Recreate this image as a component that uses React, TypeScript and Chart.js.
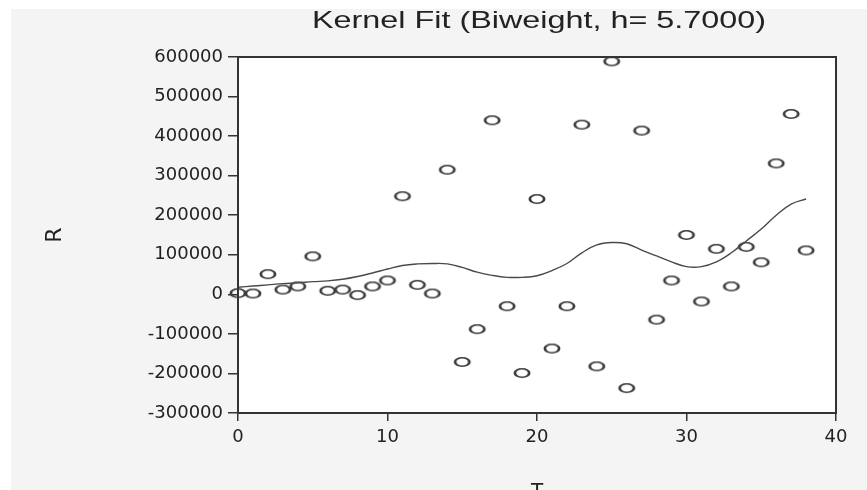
import React, { useEffect, useRef } from 'react';
import { Chart, registerables } from 'chart.js';

Chart.register(...registerables);

const TITLE = 'Kernel Fit (Biweight, h= 5.7000)';
const X_LABEL = 'T';
const Y_LABEL = 'R';

const T_VALUES = [0, 1, 2, 3, 4, 5, 6, 7, 8, 9, 10, 11, 12, 13, 14, 15, 16, 17, 18, 19, 20, 21, 22, 23, 24, 25, 26, 27, 28, 29, 30, 31, 32, 33, 34, 35, 36, 37, 38];
const R_VALUES = [3000, 2000, 51000, 12000, 20000, 96000, 9000, 12000, -2000, 20000, 35000, 248000, 24000, 2000, 315000, -171000, -88000, 440000, -30000, -199000, 241000, -137000, -30000, 429000, -182000, 589000, -237000, 414000, -64000, 35000, 150000, -18000, 115000, 20000, 120000, 81000, 331000, 456000, 111000];
const FIT_VALUES = [18000, 21000, 24000, 27000, 29000, 32000, 34000, 38000, 45000, 54000, 64000, 73000, 77000, 78000, 77000, 68000, 56000, 48000, 43000, 43000, 47000, 60000, 78000, 105000, 125000, 131000, 128000, 112000, 97000, 82000, 70000, 70000, 82000, 105000, 135000, 165000, 200000, 228000, 241000];

const X_TICKS = [0, 10, 20, 30, 40];
const Y_TICKS = [-300000, -200000, -100000, 0, 100000, 200000, 300000, 400000, 500000, 600000];

const FONT = '"DejaVu Sans", sans-serif';
const TITLE_FONT = '"Liberation Sans", Arial, sans-serif';
const INK = '#222222';
const AXIS = '#333333';

function makeMarker(): HTMLCanvasElement {
  const c = document.createElement('canvas');
  c.width = 20;
  c.height = 12;
  const g = c.getContext('2d')!;
  g.translate(10, 6);
  g.scale(1.7, 1);
  g.beginPath();
  g.arc(0, 0, 4.2, 0, Math.PI * 2);
  g.lineWidth = 1.6;
  g.strokeStyle = '#3c3c3c';
  g.stroke();
  return c;
}

const framePlugin = {
  id: 'frameAndTitle',
  beforeDraw(chart: any) {
    const { ctx, chartArea, width, height } = chart;
    ctx.save();
    ctx.fillStyle = '#ffffff';
    ctx.fillRect(0, 0, width, height);
    ctx.fillStyle = '#f4f4f4';
    ctx.fillRect(11, 9, width - 11, height - 9);
    ctx.fillStyle = '#ffffff';
    ctx.fillRect(chartArea.left, chartArea.top, chartArea.right - chartArea.left, chartArea.bottom - chartArea.top);
    ctx.restore();
  },
  afterDraw(chart: any) {
    const { ctx, chartArea } = chart;
    ctx.save();
    ctx.strokeStyle = AXIS;
    ctx.lineWidth = 2;
    ctx.strokeRect(chartArea.left, chartArea.top, chartArea.right - chartArea.left, chartArea.bottom - chartArea.top);
    ctx.font = '24px ' + TITLE_FONT;
    ctx.fillStyle = INK;
    ctx.textAlign = 'center';
    ctx.textBaseline = 'alphabetic';
    const w = ctx.measureText(TITLE).width;
    const sx = 454 / w;
    ctx.translate((chartArea.left + chartArea.right) / 2 + 2, 28);
    ctx.scale(sx, 1);
    ctx.fillText(TITLE, 0, 0);
    ctx.restore();
  },
};

export default function App() {
  const ref = useRef<HTMLCanvasElement | null>(null);

  useEffect(() => {
    if (!ref.current) return;
    const marker = makeMarker();
    const tickFont = { family: FONT, size: 18 };
    const chart = new Chart(ref.current, {
      type: 'scatter',
      data: {
        datasets: [
          {
            type: 'line',
            data: T_VALUES.map((t, i) => ({ x: t, y: FIT_VALUES[i] })),
            borderColor: '#4a4a4a',
            borderWidth: 1.4,
            pointRadius: 0,
            tension: 0.4,
            fill: false,
          } as any,
          {
            type: 'scatter',
            data: T_VALUES.map((t, i) => ({ x: t, y: R_VALUES[i] })),
            pointStyle: marker,
            pointRadius: 6,
            clip: false,
          } as any,
        ],
      },
      options: {
        animation: false,
        responsive: false,
        events: [],
        layout: { padding: { left: 0, top: 57, right: 31, bottom: -10 } },
        plugins: {
          legend: { display: false },
          tooltip: { enabled: false },
          title: { display: false },
        },
        scales: {
          x: {
            type: 'linear',
            min: 0,
            max: 40,
            afterBuildTicks: (s: any) => {
              s.ticks = X_TICKS.map((v) => ({ value: v }));
            },
            afterFit: (s: any) => {
              s.height = 87;
            },
            grid: { drawOnChartArea: false, tickLength: 8, color: AXIS, lineWidth: 1.5 },
            border: { color: AXIS, width: 2 },
            ticks: { font: tickFont, color: INK, padding: 6, maxRotation: 0, callback: (v: any) => String(v) },
            title: { display: true, text: X_LABEL, font: { family: FONT, size: 20 }, color: INK, padding: { top: 0, bottom: -4 } },
          },
          y: {
            type: 'linear',
            min: -300000,
            max: 600000,
            afterBuildTicks: (s: any) => {
              s.ticks = Y_TICKS.map((v) => ({ value: v }));
            },
            afterFit: (s: any) => {
              s.width = 238;
            },
            grid: { drawOnChartArea: false, tickLength: 10, color: AXIS, lineWidth: 1.5 },
            border: { color: AXIS, width: 2 },
            ticks: { font: tickFont, color: INK, padding: 5, callback: (v: any) => String(v) },
            title: { display: true, text: Y_LABEL, font: { family: FONT, size: 22 }, color: INK, padding: { top: 42, bottom: 0 } },
          },
        },
      } as any,
      plugins: [framePlugin],
    });
    return () => chart.destroy();
  }, []);

  return (
    <div style={{ position: 'absolute', left: 0, top: 0, width: 867, height: 490, overflow: 'hidden' }}>
      <canvas ref={ref} width={867} height={490} style={{ display: 'block' }} />
    </div>
  );
}
